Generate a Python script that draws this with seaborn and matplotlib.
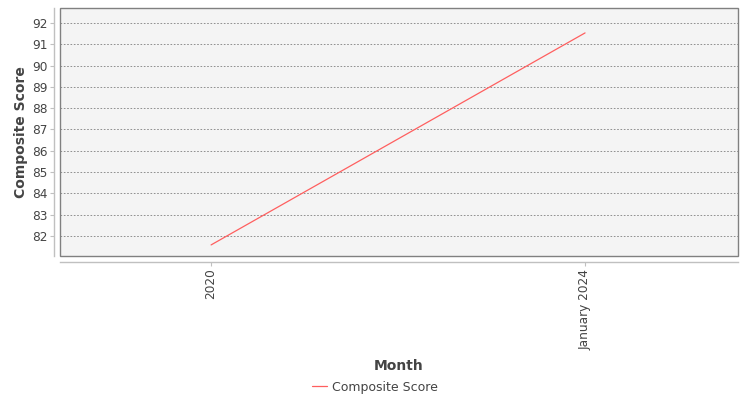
import matplotlib
matplotlib.use("Agg")
import matplotlib.pyplot as plt
import seaborn as sns
import pandas as pd
from matplotlib.patches import Rectangle

months = ["2020", "January 2024"]
scores = [81.58, 91.53]
series_name = "Composite Score"
y_ticks = [82, 83, 84, 85, 86, 87, 88, 89, 90, 91, 92]

sns.set_theme(style="white")
plt.rcParams['font.family'] = ['DejaVu Sans']

df = pd.DataFrame({"Month": months, "Composite Score": scores, "Series": series_name})

fig = plt.figure(figsize=(7.5, 4.0), dpi=100)
ax = fig.add_axes([60/750, 1-256/400, (738-60)/750, (256-8)/400])
ax.set_facecolor("#F4F4F4")

sns.lineplot(data=df, x="Month", y="Composite Score", hue="Series",
             palette=["#FF5F5F"], linewidth=0.9, ax=ax, legend=False)

ax.set_xlim(-0.404, 1.409)
ax.set_ylim(81.06, 92.70)
ax.set_yticks(y_ticks)
ax.set_yticklabels([str(v) for v in y_ticks])

ax.grid(axis="y", color="#808080", linestyle=(0, (2, 2)), linewidth=0.6)
ax.grid(axis="x", visible=False)
ax.set_axisbelow(True)

for s in ["top", "right"]:
    ax.spines[s].set_visible(False)
for s in ["left", "bottom"]:
    ax.spines[s].set_position(("outward", 4))
    ax.spines[s].set_color("#C0C0C0")
    ax.spines[s].set_linewidth(1.0)

ax.add_patch(Rectangle((0, 0), 1, 1, transform=ax.transAxes, fill=False,
                       edgecolor="#808080", linewidth=1.0, clip_on=False, zorder=5))

ax.tick_params(axis="both", which="both", length=3, width=0.8, color="#C0C0C0",
               labelsize=8.7, labelcolor="#444444", left=True, bottom=True, pad=2)
ax.tick_params(axis="x", labelrotation=90)

ax.set_xlabel("Month", fontsize=10, fontweight="bold", color="#444444", labelpad=6.5)
ax.set_ylabel("Composite Score", fontsize=10, fontweight="semibold", color="#444444", labelpad=3)

fig.legend(handles=[plt.Line2D([0], [0], color="#FF5F5F", linewidth=0.9)],
           labels=[series_name], loc="center", bbox_to_anchor=(0.5, 1-387/400),
           frameon=False, fontsize=9, handlelength=1.2, handletextpad=0.4,
           labelcolor="#444444")

fig.savefig("out.png", dpi=100)
